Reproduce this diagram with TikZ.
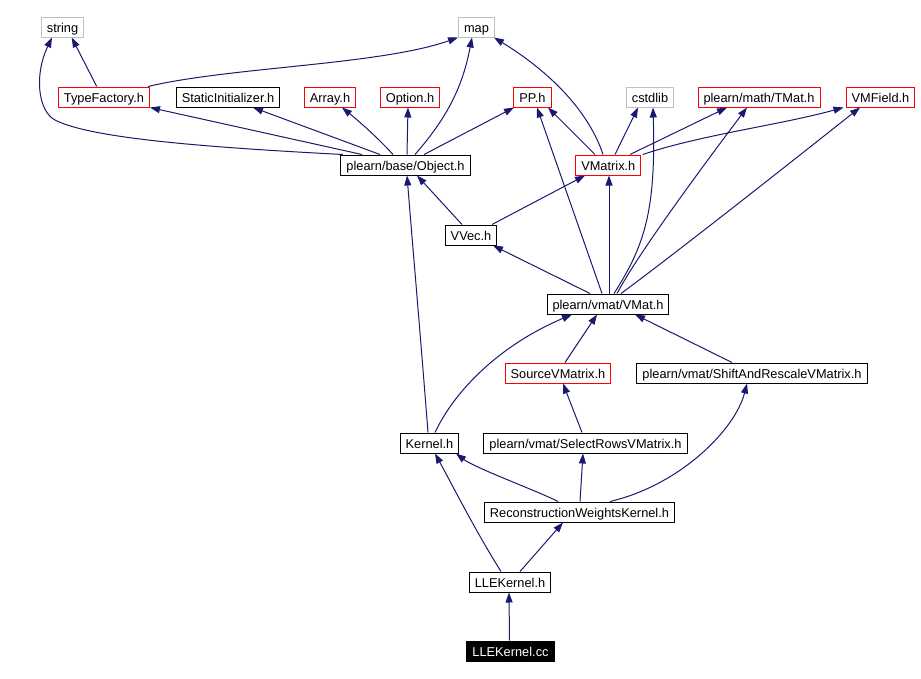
\documentclass[tikz,border=0pt]{standalone}
\usepackage{fontspec}
\setmainfont{Liberation Sans}
\usetikzlibrary{arrows.meta}
\definecolor{edgeblue}{HTML}{191970}
\definecolor{graybd}{HTML}{BFBFBF}
\begin{document}
\begin{tikzpicture}[x=1pt,y=-1pt,
  box/.style={draw=black, line width=1pt, rectangle, minimum height=20pt, inner xsep=5.5pt, inner ysep=0pt,
    font=\fontsize{12.8}{14}\selectfont, text height=11pt, text depth=1pt, fill=white},
  redbox/.style={box, draw=red},
  graybox/.style={box, draw=graybd},
  mainbox/.style={box, fill=black, text=white},
  dep/.style={draw=edgeblue, line width=1pt, -{Triangle[length=10pt,width=7pt]}}]
\useasboundingbox (0,0) rectangle (921,678);
% rank 1
\node[graybox] (str) at (62.5,27) {string};
\node[graybox] (map) at (476.5,27) {map};
% rank 2
\node[redbox] (tf) at (104,97) {TypeFactory.h};
\node[box] (si) at (228,97) {StaticInitializer.h};
\node[redbox] (arr) at (330,97) {Array.h};
\node[redbox] (opt) at (410,97) {Option.h};
\node[redbox] (pp) at (532.5,97) {PP.h};
\node[graybox] (cst) at (650,97) {cstdlib};
\node[redbox] (tmat) at (759,97) {plearn/math/TMat.h};
\node[redbox] (vmf) at (880.5,97) {VMField.h};
% rank 3
\node[box] (obj) at (405.5,165) {plearn/base/Object.h};
\node[redbox] (vmx) at (608.3,165) {VMatrix.h};
% rank 4
\node[box] (vvec) at (471,235) {VVec.h};
% rank 5
\node[box] (vmat) at (608,304) {plearn/vmat/VMat.h};
% rank 6
\node[redbox] (src) at (558,373) {SourceVMatrix.h};
\node[box] (sar) at (752,373) {plearn/vmat/ShiftAndRescaleVMatrix.h};
% rank 7
\node[box] (ker) at (429.5,443) {Kernel.h};
\node[box] (sel) at (585.5,443) {plearn/vmat/SelectRowsVMatrix.h};
% rank 8
\node[box] (rwk) at (579.5,512) {ReconstructionWeightsKernel.h};
% rank 9
\node[box] (lleh) at (510,582) {LLEKernel.h};
% rank 10
\node[mainbox] (llecc) at (510.5,651) {LLEKernel.cc};

% edges
\draw[dep] ([xshift=-1pt]llecc.north) -- ([xshift=-1pt]lleh.south);
\draw[dep] ([xshift=-9pt]lleh.north) .. controls (475,530) and (455,490) .. ([xshift=5.5pt]ker.south);
\draw[dep] ([xshift=10pt]lleh.north) -- ([xshift=-16.5pt]rwk.south);
\draw[dep] ([xshift=-21.5pt]rwk.north) .. controls (540,492) and (475,468) .. ([xshift=26.5pt]ker.south);
\draw[dep] ([xshift=0.5pt]rwk.north) -- ([xshift=-2.5pt]sel.south);
\draw[dep] ([xshift=30.5pt]rwk.north) .. controls (680,485) and (735,430) .. ([xshift=-5pt]sar.south);
\draw[dep] ([xshift=-3.5pt]sel.north) -- ([xshift=5pt]src.south);
\draw[dep] ([xshift=7pt]src.north) -- ([xshift=-11pt]vmat.south);
\draw[dep] ([xshift=-20pt]sar.north) -- ([xshift=27pt]vmat.south);
\draw[dep] ([xshift=5.5pt]ker.north) .. controls (455,390) and (500,345) .. ([xshift=-36pt]vmat.south);
\draw[dep] ([xshift=-1.5pt]ker.north) .. controls (420,330) and (413,250) .. ([xshift=1.5pt]obj.south);
\draw[dep] ([xshift=-18pt]vmat.north) -- ([xshift=22pt]vvec.south);
\draw[dep] ([xshift=-6pt]vmat.north) -- ([xshift=4.5pt]pp.south);
\draw[dep] ([xshift=1pt]vmat.north) -- ([xshift=0.7pt]vmx.south);
\draw[dep] ([xshift=6pt]vmat.north) .. controls (645,245) and (656,210) .. ([xshift=3pt]cst.south);
\draw[dep] ([xshift=9pt]vmat.north) .. controls (640,250) and (715,150) .. ([xshift=-12pt]tmat.south);
\draw[dep] ([xshift=13pt]vmat.north) .. controls (680,250) and (800,155) .. ([xshift=-20.5pt]vmf.south);
\draw[dep] ([xshift=-9pt]vvec.north) -- ([xshift=11.5pt]obj.south);
\draw[dep] ([xshift=21pt]vvec.north) -- ([xshift=-23.3pt]vmx.south);
\draw[dep] ([xshift=-13.3pt]vmx.north) -- ([xshift=15.5pt]pp.south);
\draw[dep] ([xshift=-5.3pt]vmx.north) .. controls (590,115) and (555,75) .. ([xshift=17.5pt]map.south);
\draw[dep] ([xshift=6.7pt]vmx.north) -- ([xshift=-12pt]cst.south);
\draw[dep] ([xshift=21.7pt]vmx.north) -- ([xshift=-32pt]tmat.south);
\draw[dep] ([xshift=34.5pt]vmx.north) .. controls (700,135) and (780,125) .. ([xshift=-37pt]vmf.south);
\coordinate (bend) at (55,120);
\draw[dep] ([xshift=-62.5pt]obj.north) .. controls (200,147) and (90,138) .. (bend)
   .. controls (38,111) and (34,75) .. ([xshift=-10.5pt]str.south);
\draw[dep] ([xshift=-7.3pt]tf.north) -- ([xshift=9.2pt]str.south);
\draw[dep] ([xshift=44pt]tf.north) .. controls (230,67) and (380,65) .. (map.south west);
\draw[dep] ([xshift=-43.5pt]obj.north) -- ([xshift=46pt]tf.south);
\draw[dep] ([xshift=-25.5pt]obj.north) -- ([xshift=25pt]si.south);
\draw[dep] ([xshift=-12.5pt]obj.north) .. controls (380,140) and (360,122) .. ([xshift=12pt]arr.south);
\draw[dep] ([xshift=1.5pt]obj.north) -- ([xshift=-2pt]opt.south);
\draw[dep] ([xshift=9.5pt]obj.north) .. controls (445,120) and (462,90) .. ([xshift=-4.5pt]map.south);
\draw[dep] ([xshift=18.5pt]obj.north) -- ([xshift=-18.5pt]pp.south);
\end{tikzpicture}
\end{document}
